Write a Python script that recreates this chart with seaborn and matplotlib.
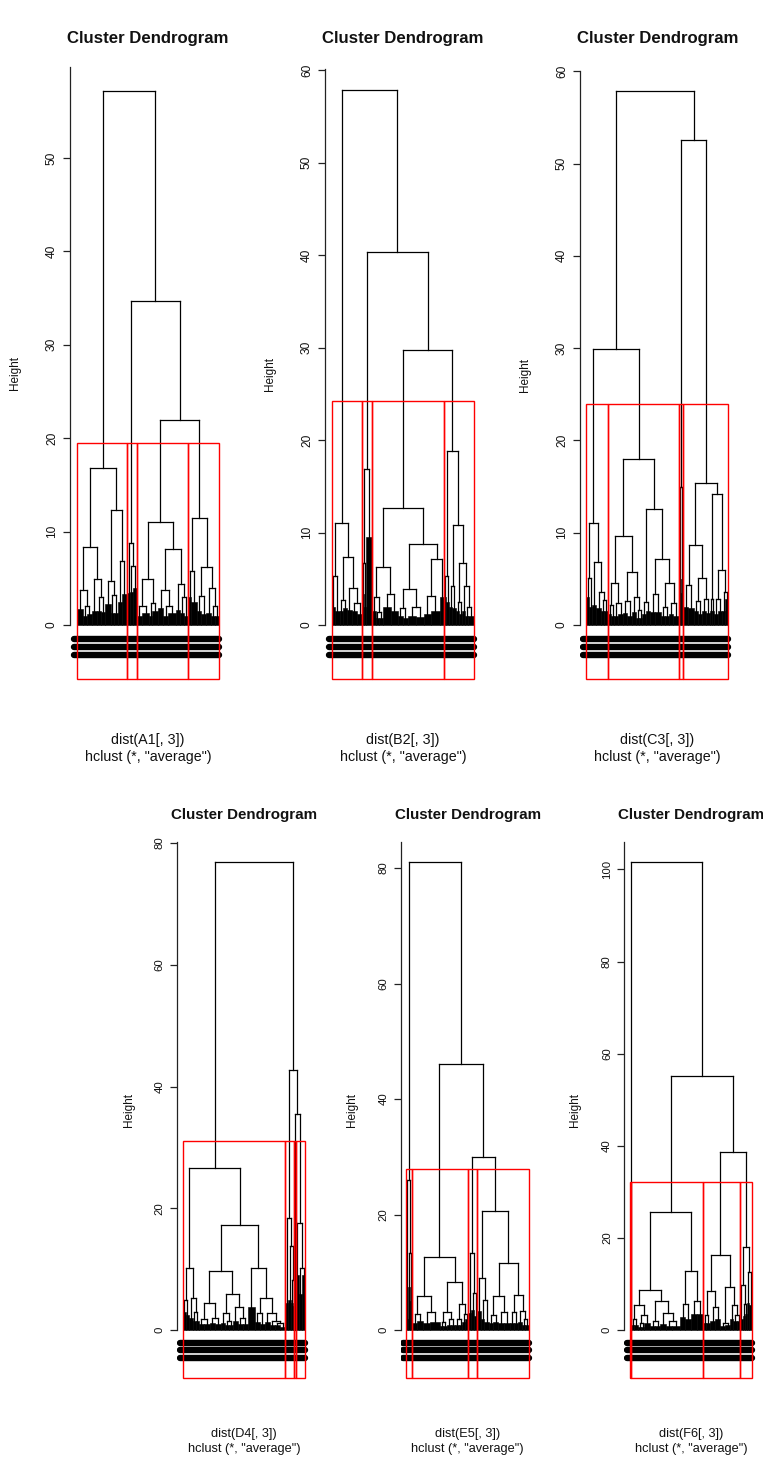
import matplotlib
matplotlib.use("Agg")
import matplotlib.pyplot as plt
import seaborn as sns
from matplotlib.collections import LineCollection
from matplotlib.patches import Rectangle

# ---------------- data ----------------
# internal node: [merge height, left, right]; dense leaf block: (leaf width, block height)
A1_c1 = [16.85,
         [8.4, [3.7, (6, 1.7), [2.0, (4, 1.0), (5, 1.2)]],
               [4.9, (5, 1.5), [3.0, (4, 1.5), (4, 1.4)]]],
         [12.3, [4.7, (6, 2.2), [3.2, (3, 1.3), (4, 1.3)]],
                [6.8, (4, 2.5), (5.6, 3.3)]]]
A1_c2 = [8.8, (3, 3.4), [6.3, (2.5, 3.5), (3.9, 4.0)]]
A1_c3 = [11.0,
         [4.9, [2.0, (5.3, 1.0), (7.3, 1.3)], [2.4, (3, 1.0), (6, 1.5)]],
         [8.1, [3.8, (5, 1.8), [2.0, (5, 1.0), (8, 1.3)]],
               [4.4, (4, 1.6), [3.0, (4, 1.3), (4.3, 1.0)]]]]
A1_c4 = [11.5, [5.8, (2.7, 3.0), (6, 2.5)],
         [6.2, [3.1, (4, 1.5), (5, 1.2)], [4.0, (5, 1.3), [2.0, (4, 1.0), (4, 1.0)]]]]
A1_joins = [57.2, 34.7, 21.95]

B2_c1 = [11.0, [5.3, (3, 2.0), (5, 1.5)],
         [7.35, [2.7, (3, 1.5), (4, 1.8)], [4.0, (5, 1.6), [2.4, (5, 1.5), (5.6, 1.2)]]]]
B2_c2 = [16.9, [6.7, (2, 3.4), (2, 2.0)], (5.4, 9.5)]
B2_c3 = [12.6,
         [6.23, [3.06, (4, 1.5), [1.4, (3.5, 0.8), (3.5, 0.8)]], [3.35, (8, 2.0), (7, 1.5)]],
         [8.79, [3.89, [1.8, (5, 1.0), (5, 0.8)], [1.9, (8, 1.0), (8, 0.9)]],
                [7.1, [3.1, (7, 1.2), (9, 1.5)], (4.6, 3.0)]]]
B2_c4 = [18.8, [5.26, (2, 3.0), (3, 2.5)],
         [10.85, [4.2, (3, 2.0), (4, 1.8)],
                 [6.7, [2.5, (3, 1.5), (3, 1.2)], [4.2, (3, 1.5), [2.0, (2.7, 1.0), (6, 1.0)]]]]]
B2_joins = [57.8, 40.3, 29.7]

C3_c1 = [11.1, [5.1, (3, 3.0), (3, 2.0)],
         [6.8, (4, 2.2), [3.6, (5, 1.8), [2.7, (3, 1.5), (4, 1.5)]]]]
C3_c2 = [18.0,
         [9.64, [4.6, [2.2, (3, 1.2), (3, 1.0)], [2.4, (4, 1.0), (5, 1.2)]],
                [5.76, [2.6, (4, 1.3), (5, 1.0)], [3.0, (4, 1.4), [1.6, (3, 0.8), (3, 0.8)]]]],
         [12.57, [2.5, (4, 1.2), (4, 1.5)],
                 [7.2, [3.4, (5, 1.4), (6, 1.4)],
                       [4.6, [2.0, (4, 1.0), (4, 1.0)], [2.4, (4, 1.2), (6, 1.0)]]]]]
C3_c3 = [15.0, (2.0, 5.0), (2.3, 3.5)]
C3_c4 = [15.35,
         [8.67, [4.3, (5, 2.0), (6, 1.8)], [5.1, [2.6, (4, 1.5), (4, 1.2)], [2.8, (4, 1.5), (4, 1.3)]]],
         [14.2, [2.8, (2, 1.5), (2, 1.5)], [6.0, [2.8, (4, 1.2), (4, 1.5)], [3.6, (3, 1.5), (3, 2.8)]]]]
C3_joins = [57.9, 29.9, 52.5]

D4_c1 = [26.6,
         [10.3, [5.04, (3, 3.0), (3, 2.5)], [5.3, (4, 2.0), [3.0, (3, 1.5), (3, 1.5)]]],
         [17.2,
          [9.73, [4.4, [1.9, (5, 1.0), (6, 1.0)], [2.1, (5, 1.2), (6, 1.0)]],
                 [5.96, [2.8, (4, 1.2), [1.5, (4, 0.8), (4, 0.8)]],
                        [3.8, (5, 1.5), [2.0, (5, 1.0), (5, 1.0)]]]],
          [10.2, (7, 3.9), [5.3, [2.8, (5, 1.3), (5, 1.0)],
                                 [2.9, (5, 1.4), [1.5, (5, 0.8), [1.2, (5, 0.8), (5.6, 0.6)]]]]]]]
D4_c2 = [18.5, (3, 4.5), [13.8, (3, 4.9), [8.3, (1.5, 4.5), (1.5, 4.0)]]]
D4_c3 = (1.4, 0.0)
D4_c4 = [17.6, (3, 9.0), [10.2, (3.3, 6.0), (3.3, 9.0)]]
D4_joins = [76.9, 42.7, 35.5]

E5_c1 = [26.0, (1.5, 2.0), [13.3, (2.2, 7.5), (2, 5.0)]]
E5_c2 = [12.68,
         [5.88, [2.82, (5, 1.3), (6, 1.6)], [3.2, (7, 1.3), (10, 1.5)]],
         [8.36, [3.2, [1.5, (3, 0.8), (4, 0.8)], [1.9, (4, 1.0), (4, 1.0)]],
                [4.6, [2.0, (4, 1.0), (3, 1.0)], [2.8, (3, 1.5), (3, 2.0)]]]]
E5_c3 = [13.4, (3, 3.0), [6.5, (3, 3.5), (3, 2.5)]]
E5_c4 = [20.6,
         [9.1, (4, 3.3), [5.2, (3, 2.0), (5, 1.5)]],
         [11.6, [5.9, [2.6, (4, 1.2), (5, 1.5)], [3.2, (6, 1.3), (6, 1.3)]],
                [6.07, [3.1, (4, 1.3), (4, 1.3)], [3.3, (4, 1.5), [2.0, (3, 1.0), (4, 1.0)]]]]]
E5_joins = [81.07, 46.07, 29.9]

F6_c1 = (0.7, 0.0)
F6_c2 = [25.6,
         [8.74, [5.56, [2.4, (3, 1.2), (4, 1.2)], [3.3, [1.6, (3, 0.8), (3, 0.8)], (6, 1.6)]],
                [6.3, [2.0, (5, 1.0), (5, 1.0)], [3.77, (6, 1.3), [2.0, (6, 1.0), (8, 1.0)]]]],
         [12.86, [5.7, (5, 2.8), (6, 2.5)], [6.3, (6, 3.6), (6.3, 3.6)]]]
F6_c3 = [16.4, [8.6, [3.3, (3, 1.5), (4, 1.5)], [5.0, (5, 2.0), (5, 2.5)]],
         [9.5, [1.6, (5, 1.0), (5, 1.2)], [5.5, (3, 2.5), [3.3, (4, 2.0), (2.7, 2.0)]]]]
F6_c4 = [18.1, [9.8, (2.5, 2.5), [5.7, (2, 3.0), (2, 3.5)]], [12.6, (2.5, 6.0), (3.3, 5.5)]]
F6_joins = [101.6, 55.2, 38.7]

names = ["A1", "B2", "C3", "D4", "E5", "F6"]
cut_heights = [19.5, 24.25, 23.9, 31.06, 27.85, 32.2]
y_ticks = [[0, 10, 20, 30, 40, 50], [0, 10, 20, 30, 40, 50, 60], [0, 10, 20, 30, 40, 50, 60],
           [0, 20, 40, 60, 80], [0, 20, 40, 60, 80], [0, 20, 40, 60, 80, 100]]

trees = [
    [A1_joins[0], A1_c1, [A1_joins[1], A1_c2, [A1_joins[2], A1_c3, A1_c4]]],
    [B2_joins[0], B2_c1, [B2_joins[1], B2_c2, [B2_joins[2], B2_c3, B2_c4]]],
    [C3_joins[0], [C3_joins[1], C3_c1, C3_c2], [C3_joins[2], C3_c3, C3_c4]],
    [D4_joins[0], D4_c1, [D4_joins[1], D4_c2, [D4_joins[2], D4_c3, D4_c4]]],
    [E5_joins[0], E5_c1, [E5_joins[1], E5_c2, [E5_joins[2], E5_c3, E5_c4]]],
    [F6_joins[0], F6_c1, [F6_joins[1], F6_c2, [F6_joins[2], F6_c3, F6_c4]]],
]

# ---------------- layout (pixels) ----------------
W, H = 763, 1459
TOP = dict(zero=625.0, bands=[639.3, 647.0, 654.7], title=42.7, sub1=744.0, sub2=760.7,
           tsize=12.1, ssize=10.3, ksize=8.6, bot=679.3)
BOT = dict(zero=1330.3, bands=[1343.3, 1350.0, 1357.7], title=819.3, sub1=1436.7, sub2=1451.7,
           tsize=10.9, ssize=9.2, ksize=8.2, bot=1378.3)
panels = [
    dict(l=70.3, r=225.4, t=66.7, L0=76.7, L1=219.0, ppu=9.34, ylx=15.0, row=TOP),
    dict(l=325.3, r=480.4, t=69.3, L0=331.7, L1=474.0, ppu=9.25, ylx=270.0, row=TOP),
    dict(l=580.3, r=734.3, t=70.7, L0=586.0, L1=728.3, ppu=9.23, ylx=525.0, row=TOP),
    dict(l=176.7, r=311.3, t=842.3, L0=182.7, L1=305.3, ppu=6.095, ylx=129.0, row=BOT),
    dict(l=400.7, r=534.6, t=841.7, L0=406.3, L1=529.0, ppu=5.78, ylx=351.7, row=BOT),
    dict(l=624.3, r=758.3, t=841.7, L0=630.3, L1=752.3, ppu=4.61, ylx=575.0, row=BOT),
]

sns.set_theme(style="white")
plt.rcParams["font.family"] = ["Liberation Sans", "DejaVu Sans"]

fig = plt.figure(figsize=(W / 100, H / 100), dpi=100)
fig.patch.set_facecolor("white")


def build(node, start, segs, blobs):
    if isinstance(node, tuple):
        w, h = node
        blobs.append((start, w, h))
        return start + w / 2.0, h, start + w
    h, left, right = node
    xl, hl, nxt = build(left, start, segs, blobs)
    xr, hr, nxt = build(right, nxt, segs, blobs)
    segs += [[(xl, hl), (xl, h)], [(xl, h), (xr, h)], [(xr, h), (xr, hr)]]
    return (xl + xr) / 2.0, h, nxt


def width(node):
    if isinstance(node, tuple):
        return node[0]
    return width(node[1]) + width(node[2])


def clusters(node, start, cut, out):
    if isinstance(node, list) and node[0] > cut:
        s = clusters(node[1], start, cut, out)
        return clusters(node[2], s, cut, out)
    end = start + width(node)
    out.append((start, end))
    return end


for name, tree, cut, ticks, p in zip(names, trees, cut_heights, y_ticks, panels):
    row = p["row"]
    l, r, t, b = p["l"], p["r"], p["t"], row["bot"]
    ax = fig.add_axes([l / W, 1 - b / H, (r - l) / W, (b - t) / H])
    segs, blobs = [], []
    _, _, total = build(tree, 0.0, segs, blobs)
    k = total / (p["L1"] - p["L0"])
    ax.set_xlim((l - p["L0"]) * k, (r - p["L0"]) * k)
    ymin = (row["zero"] - b) / p["ppu"]
    ymax = (row["zero"] - t) / p["ppu"]
    ax.set_ylim(ymin, ymax)

    ax.add_collection(LineCollection(segs, colors="black", linewidths=0.9,
                                     capstyle="projecting", zorder=3))
    for x0, w, h in blobs:
        if h > 0:
            ax.add_patch(Rectangle((x0, 0), w, h, facecolor="black", edgecolor="black",
                                   linewidth=0.4, zorder=3))
        else:
            ax.plot([x0 + w / 2, x0 + w / 2], [0, 0.01], color="black", lw=0.9)

    # overlapping leaf labels appear as three solid bands
    for bp in row["bands"]:
        yb = (row["zero"] - bp) / p["ppu"]
        sns.lineplot(x=[-3 * k, total], y=[yb, yb], ax=ax, color="black", linewidth=4.6,
                     solid_capstyle="round", zorder=2)

    out = []
    clusters(tree, 0.0, cut, out)
    for s, e in out:
        ax.add_patch(Rectangle((s, ymin), e - s, cut - ymin, fill=False, edgecolor="#ff0000",
                               linewidth=1.0, clip_on=False, zorder=6))

    sns.despine(ax=ax, top=True, right=True, bottom=True, left=False)
    ax.spines["left"].set_bounds(0, ymax)
    ax.spines["left"].set_color("#222222")
    ax.spines["left"].set_linewidth(0.9)
    ax.set_xticks([])
    ax.set_yticks(ticks)
    ax.set_yticklabels([str(v) for v in ticks])
    ax.tick_params(axis="y", left=True, length=5.4, width=0.9, color="#222222",
                   pad=3.5, labelsize=row["ksize"], labelcolor="#111111")
    for lab in ax.get_yticklabels():
        lab.set_rotation(90)
        lab.set_va("center")
    ax.set_facecolor("white")
    ax.grid(False)

    cx = (l + r) / 2 / W
    fig.text(cx, 1 - row["title"] / H, "Cluster Dendrogram", ha="center", va="baseline",
             fontsize=row["tsize"], fontweight="bold", color="#111111")
    fig.text(cx, 1 - row["sub1"] / H, f"dist({name}[, 3])", ha="center", va="baseline",
             fontsize=row["ssize"], color="#111111")
    fig.text(cx, 1 - row["sub2"] / H, 'hclust (*, "average")', ha="center", va="baseline",
             fontsize=row["ssize"], color="#111111")
    fig.text(p["ylx"] / W, 1 - ((t + b) / 2) / H, "Height", rotation=90, ha="center",
             va="center", fontsize=8.5, color="#111111")

fig.savefig("out.png", dpi=100, facecolor="white")
